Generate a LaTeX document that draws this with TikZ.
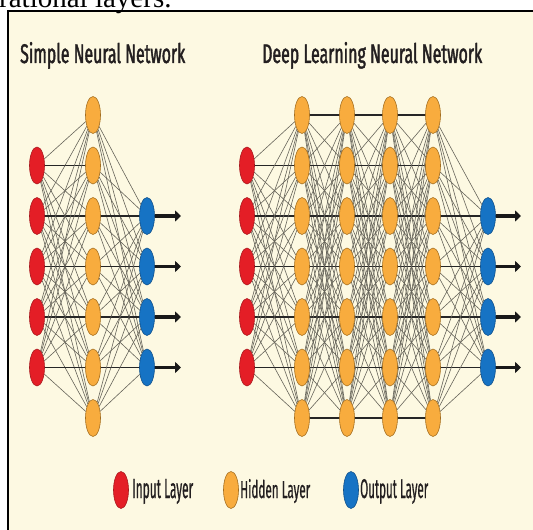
\documentclass[tikz,border=0pt]{standalone}
\usepackage{fontspec}
\usepackage{graphicx}
\usetikzlibrary{shapes.geometric,arrows.meta}
\setmainfont{Liberation Serif}
\newfontfamily\tfont{Fira Sans}[FakeStretch=0.55, FakeBold=1.4]
\newfontfamily\lfont{Fira Sans}[FakeStretch=0.55, FakeBold=0.8]
\definecolor{cream}{HTML}{FDF9E2}
\definecolor{nred}{HTML}{E41E26}
\definecolor{nredd}{HTML}{A8161B}
\definecolor{norange}{HTML}{F8AC3E}
\definecolor{norangedd}{HTML}{A36D1E}
\definecolor{nblue}{HTML}{1673C4}
\definecolor{nblued}{HTML}{0E4F8A}
\definecolor{linegray}{HTML}{66645A}
\definecolor{txt}{HTML}{231F20}
\pgfdeclarelayer{bg}
\pgfsetlayers{bg,main}
\begin{document}
\begin{tikzpicture}[x=1pt,y=-1pt,
  neuron/.style={ellipse, minimum width=15pt, minimum height=37pt, inner sep=0pt, line width=0.6pt},
  inp/.style={neuron, fill=nred, draw=nredd},
  hid/.style={neuron, fill=norange, draw=norangedd},
  outp/.style={neuron, fill=nblue, draw=nblued},
  conn/.style={draw=linegray, line width=0.6pt},
  hconn/.style={draw=black!85, line width=1.2pt},
  outarrow/.style={draw=black!90, line width=3.5pt, -{Triangle[length=6pt,width=11pt]}},
  title/.style={anchor=base west, inner sep=0pt, text=txt, font=\tfont},
  lbl/.style={anchor=base west, inner sep=0pt, text=txt, font=\lfont}]
\useasboundingbox (0,0) rectangle (533,530);
\begin{pgfonlayer}{bg}
\fill[white] (0,0) rectangle (533,530);
\fill[cream] (8,11) rectangle (533,530);
\draw[line width=1.8pt] (8,530) -- (8,11) -- (533,11);
\end{pgfonlayer}
\node[anchor=base west, inner sep=0pt, font=\fontsize{29}{30}\selectfont] (frag) at (-1,7) {rational layers.};
% titles
\node[title] (t1) at (20,63) {\resizebox{165pt}{21pt}{Simple Neural Network}};
\node[title] (t2) at (262,63) {\resizebox{220pt}{21pt}{Deep Learning Neural Network}};
% simple network
\foreach \k in {2,...,6} \node[inp] (si\k) at (37,{115+50.5*(\k-1)}) {};
\foreach \k in {1,...,7} \node[hid] (sh\k) at (93,{115+50.5*(\k-1)}) {};
\foreach \k in {3,...,6} {
  \node[outp] (so\k) at (147,{115+50.5*(\k-1)}) {};
  \coordinate (sa\k) at (181,{115+50.5*(\k-1)});
}
% deep network
\foreach \k in {2,...,6} \node[inp] (di\k) at (247,{115+50.5*(\k-1)}) {};
\foreach \c/\x in {1/302,2/347,3/390,4/433}
  \foreach \k in {1,...,7} \node[hid] (dh\c-\k) at (\x,{115+50.5*(\k-1)}) {};
\foreach \k in {3,...,6} {
  \node[outp] (do\k) at (488,{115+50.5*(\k-1)}) {};
  \coordinate (da\k) at (521,{115+50.5*(\k-1)});
}
\begin{pgfonlayer}{bg}
\foreach \i in {2,...,6} \foreach \j in {1,...,7} {
  \ifnum\i=\j \draw[hconn] (si\i) -- (sh\j); \draw[hconn] (di\i) -- (dh1-\j);
  \else \draw[conn] (si\i) -- (sh\j); \draw[conn] (di\i) -- (dh1-\j); \fi
}
\foreach \i in {1,...,7} \foreach \j in {3,...,6} {
  \ifnum\i=\j \draw[hconn] (sh\i) -- (so\j); \draw[hconn] (dh4-\i) -- (do\j);
  \else \draw[conn] (sh\i) -- (so\j); \draw[conn] (dh4-\i) -- (do\j); \fi
}
\foreach \c/\d in {1/2,2/3,3/4}
  \foreach \i in {1,...,7} \foreach \j in {1,...,7} {
    \ifnum\i=\j \draw[hconn] (dh\c-\i) -- (dh\d-\j);
    \else \draw[conn] (dh\c-\i) -- (dh\d-\j); \fi
  }
\end{pgfonlayer}
\foreach \k in {3,...,6} {
  \draw[outarrow] (so\k) -- (sa\k);
  \draw[outarrow] (do\k) -- (da\k);
}
% legend
\node[inp] (li) at (121,490) {};
\node[lbl] (lit) at (132,498) {\resizebox{61pt}{19pt}{Input Layer}};
\node[hid] (lh) at (231,490) {};
\node[lbl] (lht) at (240,498) {\resizebox{70pt}{19pt}{Hidden Layer}};
\node[outp] (lo) at (351,490) {};
\node[lbl] (lot) at (360,498) {\resizebox{68pt}{19pt}{Output Layer}};
\end{tikzpicture}
\end{document}
